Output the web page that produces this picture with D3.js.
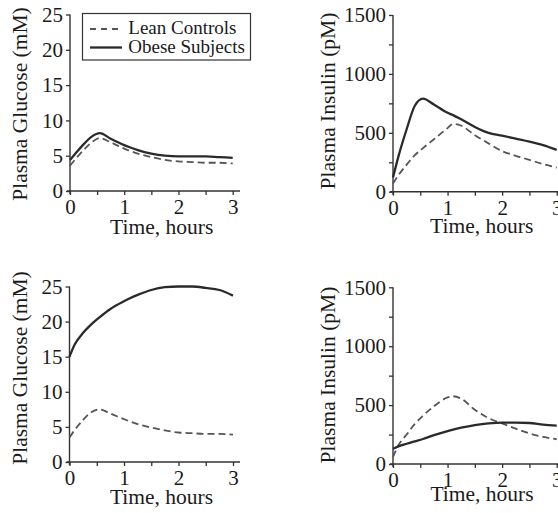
<!DOCTYPE html>
<html>
<head>
<meta charset="utf-8">
<script src="https://cdn.jsdelivr.net/npm/d3@7"></script>
<style>
body { margin: 0; background: #fff; }
svg { display: block; }
text { font-family: "Liberation Serif", "Times New Roman", serif; fill: #1a1a1a; }
</style>
</head>
<body>
<svg id="chart" width="558" height="513"></svg>
<script>
// sample times (hours)
var hours = [0, 0.1, 0.25, 0.4, 0.55, 0.75, 1, 1.1, 1.25, 1.5, 1.75, 2, 2.25, 2.5, 2.75, 3];

// top row
var glucoseLeanTop   = [3.6, 4.5, 5.8, 6.9, 7.5, 6.9, 6.0, 5.7, 5.3, 4.8, 4.4, 4.2, 4.1, 4.0, 4.0, 3.9];
var glucoseObeseTop  = [4.4, 5.3, 6.6, 7.7, 8.2, 7.4, 6.5, 6.2, 5.8, 5.3, 5.0, 4.9, 4.9, 4.9, 4.8, 4.7];
var insulinLeanTop   = [70, 140, 230, 310, 370, 445, 540, 575, 560, 480, 410, 345, 305, 270, 235, 205];
var insulinObeseTop  = [120, 300, 530, 730, 790, 740, 670, 650, 615, 550, 500, 475, 450, 425, 395, 355];

// bottom row
var glucoseLeanBot   = [3.5, 4.6, 6.0, 7.1, 7.5, 6.9, 6.1, 5.8, 5.4, 4.9, 4.5, 4.2, 4.1, 4.0, 4.0, 3.9];
var glucoseObeseBot  = [15.0, 16.8, 18.4, 19.6, 20.6, 21.8, 22.9, 23.3, 23.8, 24.5, 24.9, 25.0, 25.0, 24.8, 24.5, 23.7];
var insulinLeanBot   = [60, 160, 250, 340, 410, 490, 565, 575, 555, 460, 390, 345, 300, 260, 230, 210];
var insulinObeseBot  = [130, 150, 172, 192, 212, 245, 280, 292, 308, 330, 345, 352, 352, 348, 335, 325];

var hourTicks = [0, 0.5, 1, 1.5, 2, 2.5, 3];
var glucoseTicks = [0, 5, 10, 15, 20, 25];
var insulinTicks = [0, 250, 500, 750, 1000, 1250, 1500];
var legendLabels = ["Lean Controls", "Obese Subjects"];

var svg = d3.select("#chart");

var drawPanel = function(p)
{
    var x = d3.scaleLinear().domain([0, 3]).range([p.x0, p.x1]);
    var y = d3.scaleLinear().domain([0, p.ymax]).range([p.y0, p.y1]);
    var g = svg.append("g");

    // axis lines
    g.append("line")
        .attr("x1", p.x0 - 3).attr("x2", p.xEnd)
        .attr("y1", p.y0).attr("y2", p.y0)
        .attr("stroke", "#333").attr("stroke-width", 1.4);
    g.append("line")
        .attr("x1", p.x0).attr("x2", p.x0)
        .attr("y1", p.y1).attr("y2", p.y0 + 3)
        .attr("stroke", "#333").attr("stroke-width", 1.4);

    var xAxis = d3.axisBottom(x)
        .tickValues(hourTicks)
        .tickSize(4).tickSizeOuter(0).tickPadding(4)
        .tickFormat(function(d) { return d % 1 == 0 ? d : ""; });
    var yAxis = d3.axisLeft(y)
        .tickValues(p.ticks)
        .tickSize(4).tickSizeOuter(0).tickPadding(3)
        .tickFormat(function(d) { return d % p.labelStep == 0 ? d : ""; });

    var xg = g.append("g").attr("transform", "translate(0," + p.y0 + ")").call(xAxis);
    var yg = g.append("g").attr("transform", "translate(" + p.x0 + ",0)").call(yAxis);
    [xg, yg].forEach(function(a) {
        a.select(".domain").remove();
        a.selectAll("line").attr("stroke", "#333").attr("stroke-width", 1.3);
        a.selectAll("text")
            .style("font-family", "'Liberation Serif', serif")
            .style("font-size", "21px")
            .attr("fill", "#1a1a1a");
    });

    var line = d3.line()
        .x(function(d, i) { return x(hours[i]); })
        .y(function(d) { return y(d); })
        .curve(d3.curveMonotoneX);

    g.append("path")
        .attr("d", line(p.lean))
        .attr("fill", "none")
        .attr("stroke", "#555")
        .attr("stroke-width", 1.8)
        .attr("stroke-dasharray", "7,4");
    g.append("path")
        .attr("d", line(p.obese))
        .attr("fill", "none")
        .attr("stroke", "#2a2a2a")
        .attr("stroke-width", 2.3);

    g.append("text")
        .attr("x", p.xlabX).attr("y", p.xlabY)
        .attr("text-anchor", "middle")
        .style("font-size", "21.5px")
        .text("Time, hours");
    g.append("text")
        .attr("transform", "translate(" + p.ylabX + "," + p.ylabY + ") rotate(-90)")
        .attr("text-anchor", "middle")
        .style("font-size", "21.5px")
        .text(p.ylabel);
}

drawPanel({x0: 70, x1: 232.7, xEnd: 240, y0: 191, y1: 14.5, ymax: 25,
    ticks: glucoseTicks, labelStep: 5, lean: glucoseLeanTop, obese: glucoseObeseTop,
    xlabX: 161.7, xlabY: 234, ylabX: 26.5, ylabY: 104, ylabel: "Plasma Glucose (mM)"});
drawPanel({x0: 393, x1: 556.7, xEnd: 558, y0: 191.7, y1: 15, ymax: 1500,
    ticks: insulinTicks, labelStep: 500, lean: insulinLeanTop, obese: insulinObeseTop,
    xlabX: 481.7, xlabY: 233, ylabX: 334.6, ylabY: 101, ylabel: "Plasma Insulin (pM)"});
drawPanel({x0: 69.5, x1: 233, xEnd: 240, y0: 462, y1: 286.5, ymax: 25,
    ticks: glucoseTicks, labelStep: 5, lean: glucoseLeanBot, obese: glucoseObeseBot,
    xlabX: 161.5, xlabY: 503.5, ylabX: 26.5, ylabY: 368, ylabel: "Plasma Glucose (mM)"});
drawPanel({x0: 393, x1: 556.7, xEnd: 558, y0: 464, y1: 287.3, ymax: 1500,
    ticks: insulinTicks, labelStep: 500, lean: insulinLeanBot, obese: insulinObeseBot,
    xlabX: 482, xlabY: 501, ylabX: 334.6, ylabY: 375, ylabel: "Plasma Insulin (pM)"});

// legend in the first panel
var legend = svg.append("g");
legend.append("rect")
    .attr("x", 82.5).attr("y", 13.5)
    .attr("width", 168).attr("height", 46.5)
    .attr("fill", "#fff").attr("stroke", "#333").attr("stroke-width", 1.2);
legendLabels.forEach(function(label, i) {
    var ly = 29 + i * 18.5;
    legend.append("line")
        .attr("x1", 90).attr("x2", 122)
        .attr("y1", ly).attr("y2", ly)
        .attr("stroke", i == 0 ? "#555" : "#2a2a2a")
        .attr("stroke-width", i == 0 ? 1.8 : 2.3)
        .attr("stroke-dasharray", i == 0 ? "6,5" : null);
    legend.append("text")
        .attr("x", 128.3).attr("y", ly + 5)
        .style("font-size", "19px")
        .text(label);
});
</script>
</body>
</html>
